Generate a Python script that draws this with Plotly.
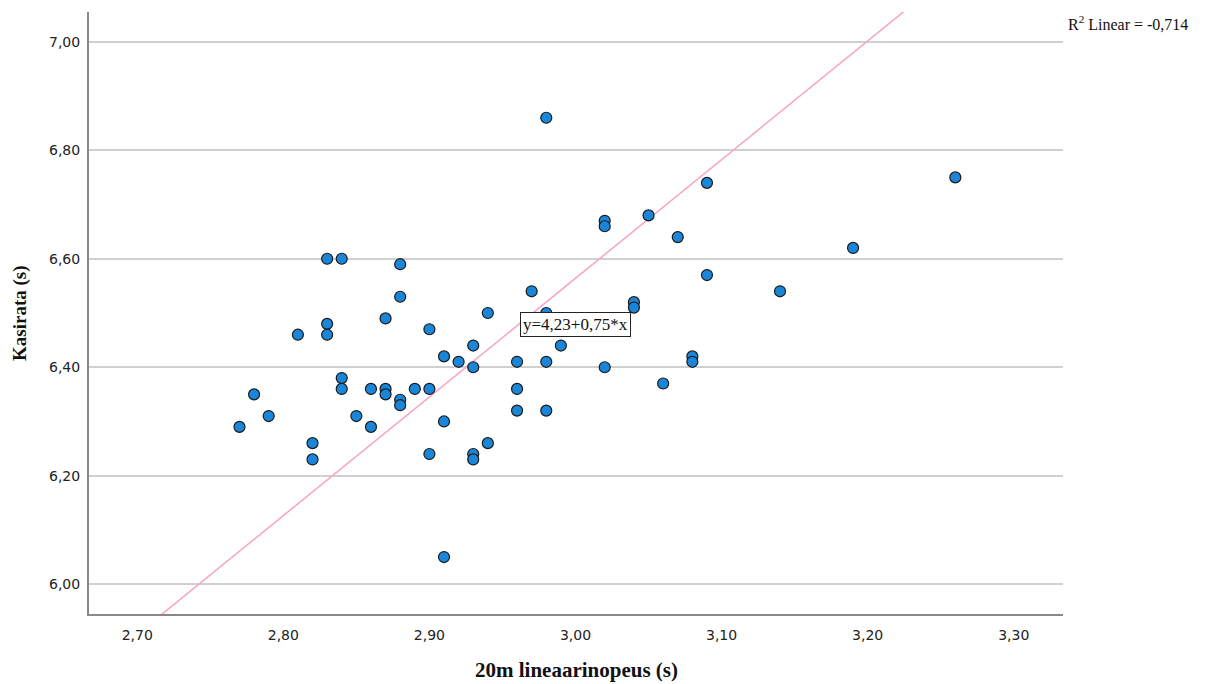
import plotly.graph_objects as go

# 20m lineaarinopeus (s)
x_vals = [2.77, 2.78, 2.79, 2.81, 2.82, 2.82, 2.83, 2.83, 2.83, 2.84,
          2.84, 2.84, 2.85, 2.86, 2.86, 2.87, 2.87, 2.87, 2.88, 2.88,
          2.88, 2.88, 2.89, 2.90, 2.90, 2.90, 2.91, 2.91, 2.91, 2.92,
          2.93, 2.93, 2.93, 2.93, 2.94, 2.94, 2.96, 2.96, 2.96, 2.97,
          2.98, 2.98, 2.98, 2.98, 2.99, 3.02, 3.02, 3.02, 3.04, 3.04,
          3.05, 3.06, 3.07, 3.08, 3.08, 3.09, 3.09, 3.14, 3.19, 3.26]
# Kasirata (s)
y_vals = [6.29, 6.35, 6.31, 6.46, 6.26, 6.23, 6.60, 6.48, 6.46, 6.60,
          6.38, 6.36, 6.31, 6.36, 6.29, 6.49, 6.36, 6.35, 6.59, 6.53,
          6.34, 6.33, 6.36, 6.47, 6.36, 6.24, 6.42, 6.30, 6.05, 6.41,
          6.44, 6.40, 6.24, 6.23, 6.50, 6.26, 6.41, 6.36, 6.32, 6.54,
          6.86, 6.50, 6.41, 6.32, 6.44, 6.67, 6.66, 6.40, 6.52, 6.51,
          6.68, 6.37, 6.64, 6.42, 6.41, 6.74, 6.57, 6.54, 6.62, 6.75]

# fit line as drawn
line_slope = 2.188
line_intercept = 0.0
line_x = [2.60, 3.40]
line_y = [line_intercept + line_slope * v for v in line_x]

x_ticks = [2.70, 2.80, 2.90, 3.00, 3.10, 3.20, 3.30]
x_tick_labels = ["2,70", "2,80", "2,90", "3,00", "3,10", "3,20", "3,30"]
y_ticks = [6.00, 6.20, 6.40, 6.60, 6.80, 7.00]
y_tick_labels = ["6,00", "6,20", "6,40", "6,60", "6,80", "7,00"]

equation_text = "y=4,23+0,75*x"
r2_text = "R<sup>2</sup> Linear = -0,714"
x_title = "20m lineaarinopeus (s)"
y_title = "Kasirata (s)"

fig = go.Figure()
fig.add_trace(go.Scatter(
    x=line_x, y=line_y, mode="lines",
    line=dict(color="#f7a8c4", width=1.6),
    hoverinfo="skip", showlegend=False))
fig.add_trace(go.Scatter(
    x=x_vals, y=y_vals, mode="markers",
    marker=dict(size=11, color="#1a86da", line=dict(color="#1a1a1a", width=1.2)),
    showlegend=False))

fig.update_layout(
    width=1198, height=676,
    margin=dict(l=81, r=143, t=4, b=70),
    paper_bgcolor="white", plot_bgcolor="white",
    font=dict(family="DejaVu Sans", size=14, color="#222222"),
    xaxis=dict(range=[2.667, 3.3337], tickvals=x_ticks, ticktext=x_tick_labels,
               showgrid=False, zeroline=False, showline=True, linecolor="#888888",
               linewidth=2, ticks="", ticklabelstandoff=7,
               tickfont=dict(family="DejaVu Sans", size=14, color="#222222")),
    yaxis=dict(range=[5.945, 7.055], tickvals=y_ticks, ticktext=y_tick_labels,
               showgrid=True, gridcolor="#d0d0d0", gridwidth=1.5, zeroline=False,
               showline=True, linecolor="#888888", linewidth=2, ticks="",
               ticklabelstandoff=4,
               tickfont=dict(family="DejaVu Sans", size=14, color="#222222")),
    annotations=[
        dict(x=3.0, y=6.479, xref="x", yref="y", text=equation_text, showarrow=False,
             font=dict(family="Liberation Serif", size=17, color="#111111"),
             bgcolor="white", bordercolor="#222222", borderwidth=1, borderpad=2),
        dict(x=1.0, y=0.982, xref="paper", yref="paper", text=r2_text, showarrow=False,
             xanchor="left", yanchor="middle", xshift=3,
             font=dict(family="Liberation Serif", size=16, color="#111111")),
        dict(x=0.5, y=0, xref="paper", yref="paper", text="<b>" + x_title + "</b>",
             showarrow=False, yshift=-56, yanchor="middle",
             font=dict(family="Liberation Serif", size=21, color="#111111")),
        dict(x=0, y=0.5, xref="paper", yref="paper", text="<b>" + y_title + "</b>",
             showarrow=False, xshift=-69, textangle=-90, xanchor="center",
             font=dict(family="Liberation Serif", size=19, color="#111111")),
    ],
)

fig.write_html("out.html")
